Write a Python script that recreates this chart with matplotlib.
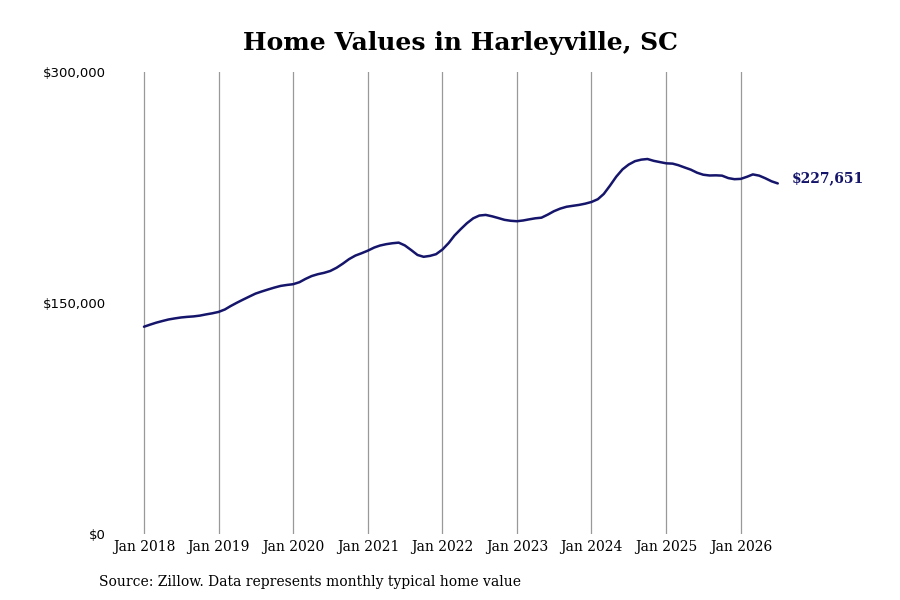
import matplotlib
matplotlib.use("Agg")
import matplotlib.pyplot as plt
import matplotlib.dates as mdates
import matplotlib.ticker as mticker
import pandas as pd

# monthly typical home value, Jan 2018 .. Jul 2026
start_month = "2018-01-01"
home_values = [
    134600, 136000, 137200, 138300, 139300, 140000, 140600, 141000, 141300, 141800, 142600, 143300,
    144200, 145800, 148000, 150200, 152200, 154200, 156100, 157500, 158800, 160000, 161100, 161700,
    162200, 163500, 165600, 167500, 168700, 169600, 170800, 172900, 175600, 178500, 180800, 182300,
    184000, 186000, 187300, 188200, 188800, 189200, 187400, 184400, 181200, 180000, 180600, 181700,
    184700, 189000, 193800, 198000, 201800, 205000, 206800, 207200, 206300, 205200, 204000, 203400,
    203100, 203600, 204300, 205000, 205400, 207400, 209600, 211300, 212500, 213100, 213700, 214500,
    215600, 217400, 220800, 226300, 232000, 236800, 239900, 242100, 243100, 243500, 242300, 241500,
    240700, 240500, 239500, 238000, 236600, 234600, 233300, 232800, 232900, 232700, 231100, 230400,
    230600, 232000, 233500, 232700, 231000, 229000, 227651,
]
y_ticks = [0, 150000, 300000]
title = "Home Values in Harleyville, SC"
source = "Source: Zillow. Data represents monthly typical home value"

dates = pd.date_range(start_month, periods=len(home_values), freq="MS")
df = pd.DataFrame({"date": dates, "value": home_values})

navy = "#15156b"

fig = plt.figure(figsize=(9, 6), dpi=100)
ax_left, ax_width = 125, 665
ax = fig.add_axes([ax_left / 900, 66 / 600, ax_width / 900, 462 / 600])

ax.plot(df["date"], df["value"], color=navy, linewidth=1.8, solid_capstyle="round")

# about 74.6 px per year, Jan 2018 sitting 19 px in from the axes edge
days_per_px = 365.25 / 74.6
x0 = pd.Timestamp(start_month) - pd.Timedelta(days=19 * days_per_px)
x1 = x0 + pd.Timedelta(days=ax_width * days_per_px)
ax.set_xlim(x0, x1)
ax.set_ylim(0, 300000)

ax.xaxis.set_major_locator(mdates.YearLocator(1, month=1, day=1))
ax.xaxis.set_major_formatter(mdates.DateFormatter("%b %Y"))
ax.set_yticks(y_ticks)
ax.yaxis.set_major_formatter(mticker.FuncFormatter(lambda v, p: "${:,.0f}".format(v)))

ax.grid(axis="x", color="#999999", linewidth=0.9)
ax.grid(axis="y", visible=False)
for s in ax.spines.values():
    s.set_visible(False)

ax.tick_params(axis="y", length=0, pad=14, labelsize=9.5)
ax.tick_params(axis="x", length=0, pad=4)
for lbl in ax.get_xticklabels():
    lbl.set_fontfamily("DejaVu Serif")
    lbl.set_fontsize(10)
for lbl in ax.get_yticklabels():
    lbl.set_fontfamily("DejaVu Sans")

last_date = df["date"].iloc[-1]
last_val = df["value"].iloc[-1]
ax.annotate("${:,.0f}".format(last_val), xy=(last_date, last_val), xytext=(10, 4),
            textcoords="offset points", ha="left", va="center",
            fontsize=10, fontweight="bold", family="DejaVu Serif", color=navy)

fig.text(0.512, 0.928, title, ha="center", va="center", fontsize=18,
         fontweight="bold", family="DejaVu Serif")
fig.text(99 / 900, 0.03, source, ha="left", va="center", fontsize=10, family="DejaVu Serif")

fig.savefig("out.png", dpi=100, facecolor="white")
